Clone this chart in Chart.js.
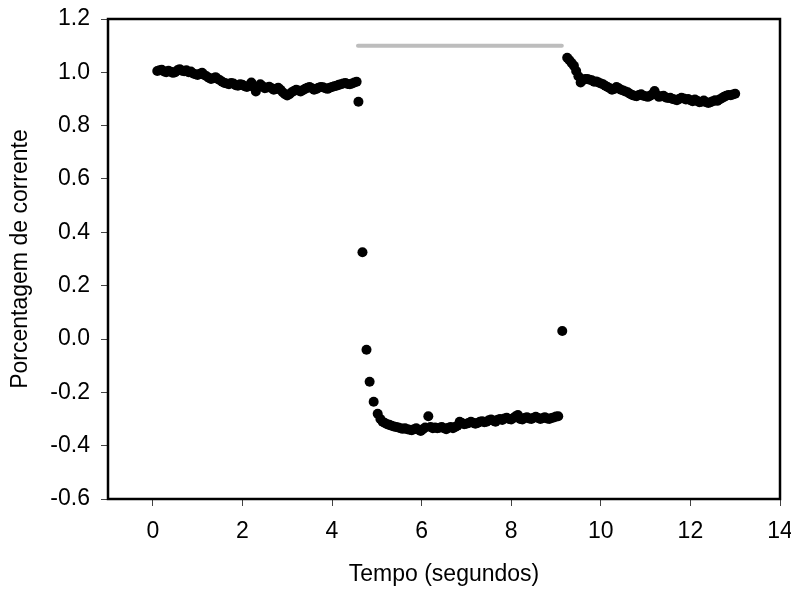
<!DOCTYPE html>
<html>
<head>
<meta charset="utf-8">
<script src="https://cdn.jsdelivr.net/npm/chart.js@4"></script>
<style>html,body{margin:0;padding:0;background:#fff;}canvas{display:block;}</style>
</head>
<body>
<canvas id="c" width="791" height="590"></canvas>
<script>
// Segment before stimulus
const timesBefore = [0.10,0.15,0.20,0.25,0.30,0.35,0.40,0.45,0.50,0.55,0.60,0.65,0.70,0.75,0.80,0.85,0.90,0.95,1.00,1.05,
  1.10,1.15,1.20,1.25,1.30,1.35,1.40,1.45,1.50,1.55,1.60,1.65,1.70,1.75,1.80,1.85,1.90,1.95,2.00,2.05,
  2.10,2.15,2.20,2.25,2.30,2.35,2.40,2.45,2.50,2.55,2.60,2.65,2.70,2.75,2.80,2.85,2.90,2.95,3.00,3.05,
  3.10,3.15,3.20,3.25,3.30,3.35,3.40,3.45,3.50,3.55,3.60,3.65,3.70,3.75,3.80,3.85,3.90,3.95,4.00,4.05,
  4.10,4.15,4.20,4.25,4.30,4.35,4.40,4.45,4.50,4.55];
const currentBefore = [1.005,1.008,1.01,1.003,1.0,1.006,1.002,0.998,1.0,1.008,1.012,1.006,1.004,1.008,1.0,1.003,0.996,0.993,0.99,0.995,
  0.998,0.99,0.985,0.98,0.975,0.978,0.982,0.975,0.97,0.965,0.96,0.958,0.955,0.96,0.958,0.952,0.95,0.955,0.953,0.948,
  0.945,0.95,0.962,0.945,0.928,0.945,0.955,0.948,0.94,0.943,0.946,0.94,0.935,0.938,0.942,0.935,0.925,0.918,0.913,0.918,
  0.925,0.93,0.935,0.932,0.928,0.933,0.938,0.942,0.945,0.94,0.935,0.938,0.942,0.945,0.944,0.94,0.938,0.942,0.945,0.948,
  0.95,0.953,0.955,0.958,0.96,0.956,0.955,0.958,0.962,0.965];
// Segment during stimulus
const timesDuring = [4.59,4.68,4.77,4.84,4.93,5.02,5.08,5.13,5.18,5.23,5.28,5.33,5.38,5.43,5.48,5.53,5.58,5.63,5.68,5.73,
  5.78,5.83,5.88,5.93,5.98,6.03,6.08,6.15,6.20,6.25,6.30,6.35,6.40,6.45,6.50,6.55,6.60,6.65,6.70,6.75,
  6.80,6.85,6.90,6.95,7.00,7.05,7.10,7.15,7.20,7.25,7.30,7.35,7.40,7.45,7.50,7.55,7.60,7.65,7.70,7.75,
  7.80,7.85,7.90,7.95,8.00,8.05,8.10,8.15,8.20,8.25,8.30,8.35,8.40,8.45,8.50,8.55,8.60,8.65,8.70,8.75,
  8.80,8.85,8.90,8.95,9.00,9.05,9.14];
const currentDuring = [0.89,0.325,-0.04,-0.16,-0.235,-0.28,-0.30,-0.31,-0.315,-0.32,-0.322,-0.325,-0.328,-0.33,-0.332,-0.335,-0.337,-0.335,-0.338,-0.34,
  -0.342,-0.338,-0.335,-0.34,-0.345,-0.338,-0.332,-0.29,-0.33,-0.335,-0.332,-0.335,-0.333,-0.33,-0.335,-0.338,-0.333,-0.33,-0.335,-0.33,
  -0.325,-0.31,-0.315,-0.32,-0.318,-0.315,-0.31,-0.314,-0.318,-0.315,-0.31,-0.308,-0.312,-0.31,-0.305,-0.302,-0.306,-0.31,-0.303,-0.30,
  -0.304,-0.298,-0.295,-0.30,-0.302,-0.296,-0.29,-0.285,-0.30,-0.302,-0.296,-0.293,-0.298,-0.30,-0.295,-0.292,-0.296,-0.30,-0.297,-0.293,
  -0.298,-0.30,-0.296,-0.294,-0.291,-0.29,0.03];
// Segment after stimulus
const timesAfter = [9.25,9.30,9.35,9.40,9.45,9.50,9.55,9.60,9.65,9.70,9.75,9.80,9.85,9.90,9.95,10.00,10.05,10.10,10.15,10.20,
  10.25,10.30,10.35,10.40,10.45,10.50,10.55,10.60,10.65,10.70,10.75,10.80,10.85,10.90,10.95,11.00,11.05,11.10,11.15,11.20,
  11.25,11.30,11.35,11.40,11.45,11.50,11.55,11.60,11.65,11.70,11.75,11.80,11.85,11.90,11.95,12.00,12.05,12.10,12.15,12.20,
  12.25,12.30,12.35,12.40,12.45,12.50,12.55,12.60,12.65,12.70,12.75,12.80,12.85,12.90,12.95,13.00];
const currentAfter = [1.055,1.045,1.035,1.025,1.005,0.985,0.962,0.97,0.975,0.975,0.972,0.97,0.965,0.966,0.962,0.958,0.955,0.95,0.945,0.94,
  0.935,0.938,0.945,0.94,0.935,0.932,0.928,0.925,0.92,0.915,0.912,0.91,0.915,0.918,0.912,0.91,0.908,0.912,0.918,0.93,
  0.915,0.908,0.91,0.912,0.906,0.904,0.905,0.90,0.898,0.895,0.90,0.905,0.902,0.898,0.90,0.895,0.892,0.898,0.893,0.888,
  0.89,0.894,0.888,0.885,0.888,0.892,0.895,0.893,0.898,0.903,0.908,0.912,0.915,0.914,0.917,0.92];
// Stimulus bar (grey line)
const stimTimes = [4.58, 9.13];
const stimLevel = [1.1, 1.1];
const xTickValues = [0,2,4,6,8,10,12,14];
const yTickValues = [-0.6,-0.4,-0.2,0.0,0.2,0.4,0.6,0.8,1.0,1.2];

const times = timesBefore.concat(timesDuring, timesAfter);
const current = currentBefore.concat(currentDuring, currentAfter);

const FONT = {family: "'Liberation Sans', Arial, sans-serif", size: 23};

const frame = {
  id: 'frame',
  afterDatasetsDraw(chart) {
    const a = chart.chartArea, ctx = chart.ctx;
    ctx.save();
    ctx.strokeStyle = '#000';
    ctx.lineWidth = 2.5;
    ctx.strokeRect(a.left, a.top, a.right - a.left, a.bottom - a.top);
    ctx.restore();
  }
};

new Chart(document.getElementById('c'), {
  type: 'scatter',
  data: {
    datasets: [
      {
        data: times.map((t, i) => ({x: t, y: current[i]})),
        backgroundColor: '#000', borderColor: '#000',
        pointRadius: 5, pointHoverRadius: 5, borderWidth: 0
      },
      {
        type: 'line',
        data: stimTimes.map((t, i) => ({x: t, y: stimLevel[i]})),
        borderColor: '#bdbdbd', borderWidth: 4, borderCapStyle: 'round',
        pointRadius: 0, fill: false
      }
    ]
  },
  options: {
    responsive: false, animation: false, devicePixelRatio: 1,
    layout: {padding: {top: 19, right: 11, left: 0, bottom: 0}},
    plugins: {legend: {display: false}, tooltip: {enabled: false}},
    scales: {
      x: {
        type: 'linear', min: -1, max: 14,
        afterBuildTicks: s => { s.ticks = xTickValues.map(v => ({value: v})); },
        afterFit: s => { s.height = 91; s.paddingRight = 0; s.paddingLeft = 0; },
        grid: {display: true, drawOnChartArea: false, drawTicks: true, tickLength: 7, color: '#444', lineWidth: 1},
        border: {display: false},
        ticks: {color: '#000', font: FONT, padding: 12, maxRotation: 0, callback: v => String(v)},
        title: {display: true, text: 'Tempo (segundos)', color: '#000', font: FONT, padding: {top: 0, bottom: 2}}
      },
      y: {
        type: 'linear', min: -0.6, max: 1.2,
        afterBuildTicks: s => { s.ticks = yTickValues.map(v => ({value: v})); },
        afterFit: s => { s.width = 108; s.paddingTop = 0; s.paddingBottom = 0; },
        grid: {display: true, drawOnChartArea: false, drawTicks: true, tickLength: 7, color: '#444', lineWidth: 1},
        border: {display: false},
        ticks: {color: '#000', font: FONT, padding: 11, callback: v => Number(v).toFixed(1)},
        title: {display: true, text: 'Porcentagem de corrente', color: '#000', font: FONT, padding: {top: 7, bottom: 0}}
      }
    }
  },
  plugins: [frame]
});
</script>
</body>
</html>
